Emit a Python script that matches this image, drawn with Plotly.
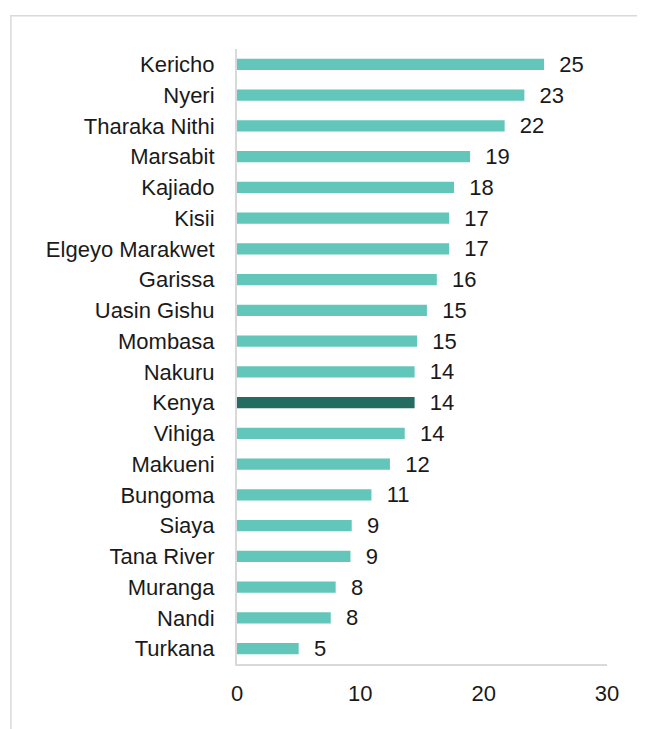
import plotly.graph_objects as go

_TEAL = "#62C6BA"
_DARK = "#246B61"
_AXIS = "#D9D9D9"
_TEXT = "#1A1A1A"

counties = [
    "Kericho", "Nyeri", "Tharaka Nithi", "Marsabit", "Kajiado", "Kisii",
    "Elgeyo Marakwet", "Garissa", "Uasin Gishu", "Mombasa", "Nakuru", "Kenya",
    "Vihiga", "Makueni", "Bungoma", "Siaya", "Tana River", "Muranga", "Nandi",
    "Turkana",
]
values = [
    24.9, 23.3, 21.7, 18.9, 17.6, 17.2, 17.2, 16.2, 15.4, 14.6, 14.4, 14.4,
    13.6, 12.4, 10.9, 9.3, 9.2, 8.0, 7.6, 5.0,
]
x_ticks = [0, 10, 20, 30]

colors = [_DARK if c == "Kenya" else _TEAL for c in counties]

fig = go.Figure(go.Bar(
    x=values, y=counties, orientation="h",
    marker=dict(color=colors, line=dict(width=0)),
    width=0.36,
    texttemplate="\u00a0\u00a0%{x:.0f}",
    textposition="outside",
    constraintext="none",
    textfont=dict(size=22, color=_TEXT),
    cliponaxis=False,
))

# page body adds an 8px margin, so the figure is 8px smaller than the window
fig.update_layout(
    template="plotly_white",
    width=637, height=721,
    paper_bgcolor="#FFFFFF",
    plot_bgcolor="#FFFFFF",
    font=dict(family="Liberation Sans, Arial, sans-serif", color=_TEXT, size=22),
    margin=dict(l=229, r=38, t=41, b=65),
    showlegend=False,
    xaxis=dict(
        range=[0, 30], tickvals=x_ticks, showgrid=False, zeroline=False,
        showline=True, linecolor=_AXIS, linewidth=2, ticks="",
        tickfont=dict(size=22), ticklabelstandoff=9,
    ),
    yaxis=dict(
        autorange="reversed", showgrid=False, zeroline=False,
        showline=True, linecolor=_AXIS, linewidth=2, ticks="",
        tickfont=dict(size=22), ticklabelstandoff=16,
    ),
    shapes=[dict(
        type="rect", xref="paper", yref="paper",
        x0=-0.611, x1=1.2, y0=-0.2, y1=1.054,
        line=dict(color=_AXIS, width=1.5), layer="below",
    )],
)

fig.write_html("out.html")
